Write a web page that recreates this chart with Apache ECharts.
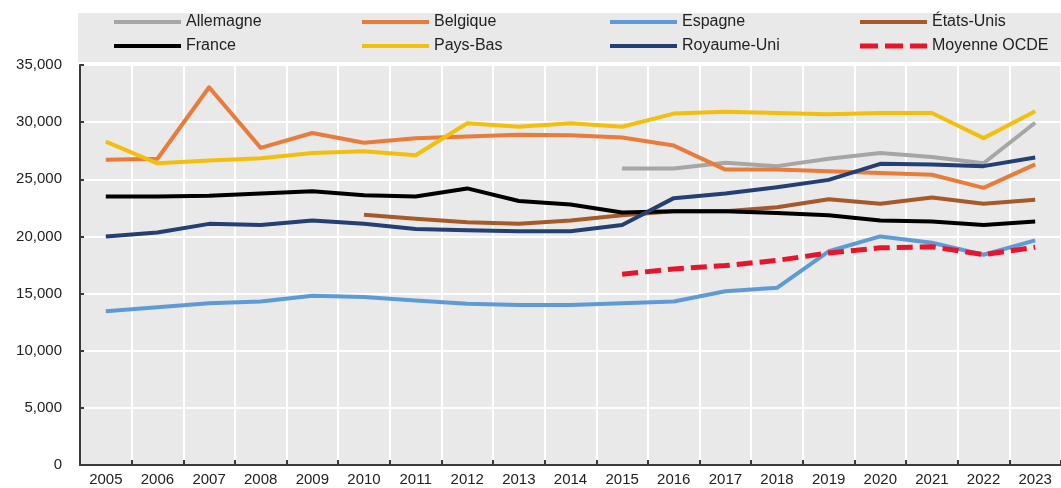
<!DOCTYPE html>
<html>
<head>
<meta charset="utf-8">
<script src="https://cdn.jsdelivr.net/npm/echarts@6/dist/echarts.min.js"></script>
<style>
  html, body { margin: 0; padding: 0; background: #ffffff; }
  #chart { width: 1061px; height: 488px; }
</style>
</head>
<body>
<div id="chart"></div>
<script>
// Years on the horizontal axis
const years = ['2005','2006','2007','2008','2009','2010','2011','2012','2013','2014',
               '2015','2016','2017','2018','2019','2020','2021','2022','2023'];

// Values per country (null = no data for that year)
const allemagne = [null,null,null,null,null,null,null,null,null,null,
                   25950,25950,26450,26150,26800,27300,26950,26400,29950];
const belgique  = [26700,26800,33050,27750,29050,28200,28600,28750,28900,28850,
                   28650,27950,25850,25850,25700,25550,25400,24250,26300];
const espagne   = [13450,13800,14150,14300,14800,14700,14400,14100,14000,14000,
                   14150,14300,15200,15500,18700,20000,19450,18400,19650];
const etatsUnis = [null,null,null,null,null,21900,21550,21250,21100,21400,
                   21850,22200,22200,22550,23250,22850,23400,22850,23200];
const france    = [23500,23500,23550,23750,23950,23600,23500,24200,23100,22800,
                   22100,22200,22200,22050,21850,21400,21300,21000,21300];
const paysBas   = [28300,26400,26650,26850,27300,27450,27100,29900,29600,29900,
                   29600,30750,30900,30800,30700,30800,30800,28600,30950];
const royaumeUni= [20000,20350,21100,21000,21400,21100,20650,20550,20450,20450,
                   21000,23350,23750,24300,24950,26350,26300,26150,26900];
const moyenneOCDE=[null,null,null,null,null,null,null,null,null,null,
                   16700,17150,17450,17900,18550,19000,19100,18400,19050];

// Y axis ticks
const yTicks = [0, 5000, 10000, 15000, 20000, 25000, 30000, 35000];

const FONT = 'Liberation Sans, Arial, sans-serif';
const TEXT = '#222222';
const PANEL = '#e9e9e9';

const seriesDefs = [
  { name: 'Allemagne',    data: allemagne,   color: '#a6a6a6' },
  { name: 'Belgique',     data: belgique,    color: '#e97c3a' },
  { name: 'Espagne',      data: espagne,     color: '#5e9bd6' },
  { name: 'États-Unis',   data: etatsUnis,   color: '#a55a28' },
  { name: 'France',       data: france,      color: '#000000' },
  { name: 'Pays-Bas',     data: paysBas,     color: '#f4bf0c' },
  { name: 'Royaume-Uni',  data: royaumeUni,  color: '#233f73' },
  { name: 'Moyenne OCDE', data: moyenneOCDE, color: '#e8142c', dashed: true }
];

// Legend keys: a solid bar, or three dashes for the dashed average
const SOLID_KEY = 'path://M0,0h67v4h-67z';
const DASH_KEY = 'path://M0,0h18v5h-18z M25,0h18v5h-18z M50,0h17v5h-17z';

// Legend slots: four columns, two rows
const legendCols = [114, 362, 610, 860];
const legendRows = [13, 37];

const legends = seriesDefs.map((s, i) => ({
  data: [{ name: s.name, icon: s.dashed ? DASH_KEY : SOLID_KEY }],
  left: legendCols[i % 4],
  top: legendRows[Math.floor(i / 4)],
  padding: 0,
  itemWidth: 67,
  itemHeight: s.dashed ? 5 : 4,
  itemGap: 0,
  selectedMode: false,
  textStyle: { fontFamily: FONT, fontSize: 16, color: TEXT, lineHeight: 18 }
}));

const series = seriesDefs.map(s => ({
  name: s.name,
  type: 'line',
  data: s.data,
  symbol: 'none',
  smooth: false,
  connectNulls: false,
  z: s.dashed ? 5 : 3,
  itemStyle: { color: s.color },
  lineStyle: {
    color: s.color,
    width: s.dashed ? 5 : 4,
    type: s.dashed ? [16, 7] : 'solid',
    cap: 'butt',
    join: 'round'
  },
  emphasis: { disabled: true }
}));

const chart = echarts.init(document.getElementById('chart'), null, { renderer: 'canvas' });
chart.setOption({
  animation: false,
  backgroundColor: '#ffffff',
  graphic: [{
    type: 'rect',
    left: 78, top: 13,
    shape: { width: 990, height: 49 },
    style: { fill: PANEL },
    z: -10, silent: true
  }],
  legend: legends,
  grid: {
    left: 80, top: 65, width: 988, height: 400,
    show: true, backgroundColor: PANEL, borderWidth: 0
  },
  xAxis: {
    type: 'category',
    data: years,
    boundaryGap: true,
    axisLine: { lineStyle: { color: '#3a3a3a', width: 2 } },
    axisTick: { show: true, inside: true, length: 5, alignWithLabel: false,
                lineStyle: { color: '#3a3a3a', width: 2 } },
    splitLine: { show: true, lineStyle: { color: '#ffffff', width: 2 } },
    axisLabel: { fontFamily: FONT, fontSize: 15, color: TEXT, margin: 7, interval: 0 }
  },
  yAxis: {
    type: 'value',
    min: yTicks[0], max: yTicks[yTicks.length - 1], interval: 5000,
    axisLine: { show: true, lineStyle: { color: '#3a3a3a', width: 2 } },
    axisTick: { show: true, inside: true, length: 4, lineStyle: { color: '#3a3a3a', width: 2 } },
    splitLine: { show: true, lineStyle: { color: '#ffffff', width: 2 } },
    axisLabel: {
      fontFamily: FONT, fontSize: 15, color: TEXT, margin: 18,
      formatter: v => v === 0 ? '0' : v.toLocaleString('en-US')
    }
  },
  series: series
});
</script>
</body>
</html>
